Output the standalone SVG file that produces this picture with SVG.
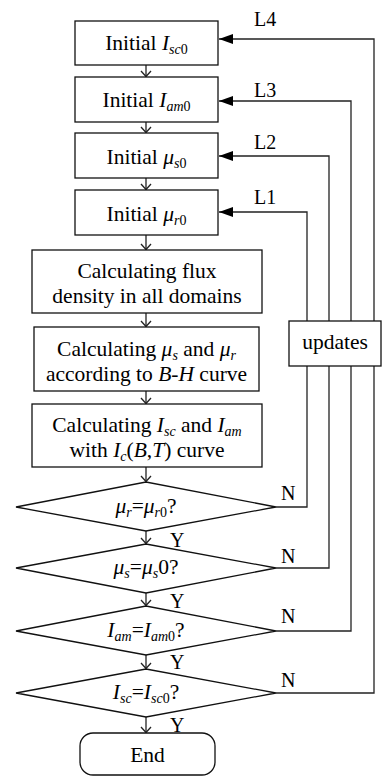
<svg xmlns="http://www.w3.org/2000/svg" width="382" height="776" viewBox="0 0 382 776" font-family="'Liberation Serif','Times New Roman',Times,'DejaVu Serif',serif">
<defs>
<style>
.b{fill:#fff;stroke:#111;stroke-width:1.3}
.c{fill:none;stroke:#222;stroke-width:1.3}
text{font-family:"Liberation Serif","Times New Roman",Times,"DejaVu Serif",serif;font-size:21.5px;fill:#000}
.m{text-anchor:middle}
.i{font-style:italic}
.s{font-size:14px}
.lb{font-size:20px}
</style>
<marker id="fa" viewBox="0 0 14 10" refX="14" refY="5" markerWidth="14" markerHeight="10" markerUnits="userSpaceOnUse" orient="auto">
<path d="M0,0 L14,5 L0,10 Z" fill="#000"/>
</marker>
</defs>
<rect width="382" height="776" fill="#fff"/>
<g id="connectors">
<path class="c" d="M146,65V76.5"/><path d="M141,71 L146,76.5 L151,71" class="c"/>
<path class="c" d="M146,122V132.5"/><path d="M141,127 L146,132.5 L151,127" class="c"/>
<path class="c" d="M146,178V189.5"/><path d="M141,184 L146,189.5 L151,184" class="c"/>
<path class="c" d="M146,235V249.5"/><path d="M141,244 L146,249.5 L151,244" class="c"/>
<path class="c" d="M146,313V326.5"/><path d="M141,321 L146,326.5 L151,321" class="c"/>
<path class="c" d="M146,391V403.5"/><path d="M141,398 L146,403.5 L151,398" class="c"/>
<path class="c" d="M146,467V481.5"/><path d="M141,476 L146,481.5 L151,476" class="c"/>
<path class="c" d="M146,531V543.5"/><path d="M141,538 L146,543.5 L151,538" class="c"/>
<path class="c" d="M146,593V605.5"/><path d="M141,600 L146,605.5 L151,600" class="c"/>
<path class="c" d="M146,655V668.5"/><path d="M141,663 L146,668.5 L151,663" class="c"/>
<path class="c" d="M146,717V732.5"/><path d="M141,727 L146,732.5 L151,727" class="c"/>
<path class="c" d="M276,507H307V212H219" marker-end="url(#fa)"/>
<path class="c" d="M276,568H329V156H219" marker-end="url(#fa)"/>
<path class="c" d="M276,631H351V101H219" marker-end="url(#fa)"/>
<path class="c" d="M276,693H374V39H219" marker-end="url(#fa)"/>
<text class="lb" x="254" y="26">L4</text>
<text class="lb" x="254" y="97">L3</text>
<text class="lb" x="254" y="149">L2</text>
<text class="lb" x="254" y="204">L1</text>
<text class="lb" x="281" y="500">N</text>
<text class="lb" x="281" y="563">N</text>
<text class="lb" x="281" y="623">N</text>
<text class="lb" x="281" y="687">N</text>
<text class="lb" x="170" y="547">Y</text>
<text class="lb" x="170" y="608">Y</text>
<text class="lb" x="170" y="669">Y</text>
<text class="lb" x="170" y="732">Y</text>
</g>
<g id="n1"><rect class="b" x="75" y="21" width="143" height="44"/>
<text class="m" x="146.5" y="50">Initial <tspan class="i">I</tspan><tspan class="i s" dy="4">sc</tspan><tspan class="s">0</tspan></text></g>
<g id="n2"><rect class="b" x="75" y="77" width="143" height="45"/>
<text class="m" x="146.5" y="107">Initial <tspan class="i">I</tspan><tspan class="i s" dy="4">am</tspan><tspan class="s">0</tspan></text></g>
<g id="n3"><rect class="b" x="75" y="133" width="143" height="45"/>
<text class="m" x="146.5" y="164">Initial <tspan class="i">μ</tspan><tspan class="i s" dy="4">s</tspan><tspan class="s">0</tspan></text></g>
<g id="n4"><rect class="b" x="75" y="190" width="143" height="45"/>
<text class="m" x="146.5" y="221">Initial <tspan class="i">μ</tspan><tspan class="i s" dy="4">r</tspan><tspan class="s">0</tspan></text></g>
<g id="n5"><rect class="b" x="32" y="250" width="230" height="63"/>
<text class="m" x="147" y="278">Calculating flux</text>
<text class="m" x="147" y="303">density in all domains</text></g>
<g id="n6"><rect class="b" x="34" y="327" width="225" height="64"/>
<text class="m" x="146.5" y="356">Calculating <tspan class="i">μ</tspan><tspan class="i s" dy="4">s</tspan><tspan dy="-4"> and </tspan><tspan class="i">μ</tspan><tspan class="i s" dy="4">r</tspan></text>
<text class="m" x="146.5" y="381">according to <tspan class="i">B-H</tspan> curve</text></g>
<g id="n7"><rect class="b" x="32" y="404" width="230" height="63"/>
<text class="m" x="147" y="432">Calculating <tspan class="i">I</tspan><tspan class="i s" dy="4">sc</tspan><tspan dy="-4"> and </tspan><tspan class="i">I</tspan><tspan class="i s" dy="4">am</tspan></text>
<text class="m" x="147" y="457">with <tspan class="i">I</tspan><tspan class="i s" dy="4">c</tspan><tspan dy="-4">(</tspan><tspan class="i">B</tspan>,<tspan class="i">T</tspan>) curve</text></g>
<g id="d1"><path class="b" d="M16,507 L146,482 L276,507 L146,531 Z"/>
<text class="m" x="146" y="513"><tspan class="i">μ</tspan><tspan class="i s" dy="4">r</tspan><tspan dy="-4">=</tspan><tspan class="i">μ</tspan><tspan class="i s" dy="4">r</tspan><tspan class="s">0</tspan><tspan dy="-4">?</tspan></text></g>
<g id="d2"><path class="b" d="M16,568 L146,544 L276,568 L146,593 Z"/>
<text class="m" x="146" y="574"><tspan class="i">μ</tspan><tspan class="i s" dy="4">s</tspan><tspan dy="-4">=</tspan><tspan class="i">μ</tspan><tspan class="i s" dy="4">s</tspan><tspan dy="-4">0?</tspan></text></g>
<g id="d3"><path class="b" d="M16,631 L146,606 L276,631 L146,655 Z"/>
<text class="m" x="146" y="637"><tspan class="i">I</tspan><tspan class="i s" dy="4">am</tspan><tspan dy="-4">=</tspan><tspan class="i">I</tspan><tspan class="i s" dy="4">am</tspan><tspan class="s">0</tspan><tspan dy="-4">?</tspan></text></g>
<g id="d4"><path class="b" d="M16,693 L146,669 L276,693 L146,717 Z"/>
<text class="m" x="146" y="699"><tspan class="i">I</tspan><tspan class="i s" dy="4">sc</tspan><tspan dy="-4">=</tspan><tspan class="i">I</tspan><tspan class="i s" dy="4">sc</tspan><tspan class="s">0</tspan><tspan dy="-4">?</tspan></text></g>
<g id="end"><rect class="b" x="80" y="733" width="135" height="42" rx="13"/>
<text class="m" x="147.5" y="762">End</text></g>
<g id="updates"><rect class="b" x="289" y="321" width="92" height="45"/>
<text class="m" x="335" y="349">updates</text></g>
</svg>
